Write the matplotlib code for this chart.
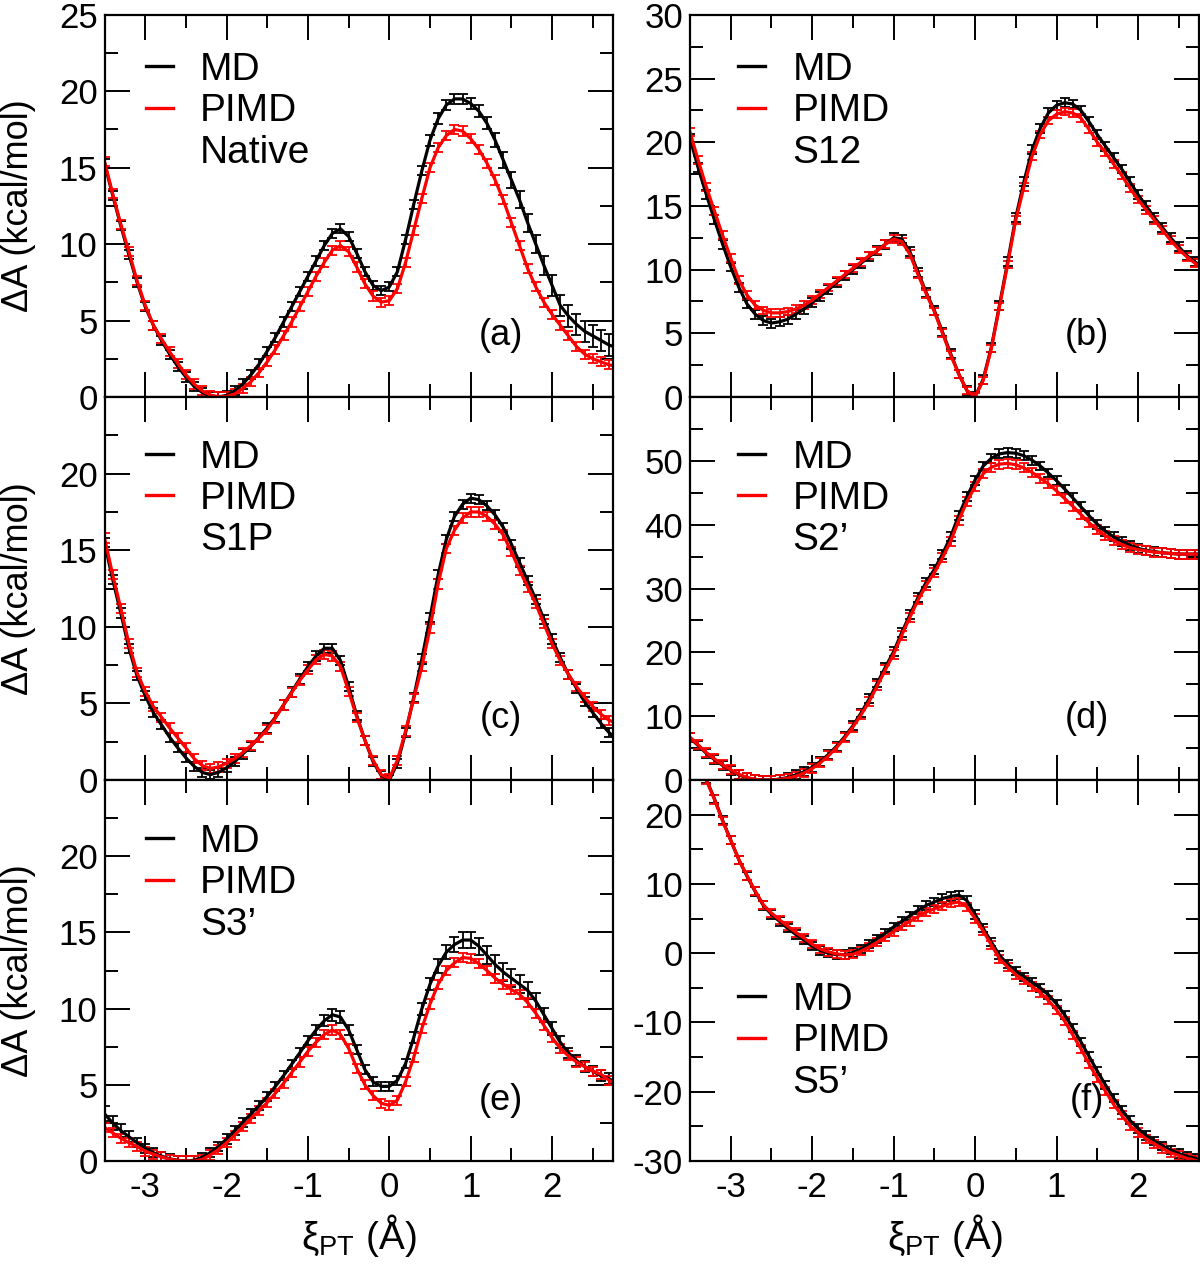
import numpy as np
import matplotlib
matplotlib.use("Agg")
import matplotlib.pyplot as plt
from matplotlib.lines import Line2D
from matplotlib.ticker import MultipleLocator

plt.rcParams['font.family'] = ['Liberation Sans', 'DejaVu Sans']
plt.rcParams['mathtext.fontset'] = 'custom'
plt.rcParams['mathtext.rm'] = 'Liberation Sans'
plt.rcParams['mathtext.it'] = 'Liberation Sans:italic'
plt.rcParams['axes.unicode_minus'] = False

# reaction coordinate grid (Angstrom), 0.1 spacing
xi = np.linspace(-3.5, 2.8, 64)

# (a) Native
a_md = [15.3, 13.2, 11.2, 9.3, 7.5, 5.9, 4.7, 3.7, 2.8, 2.0,
        1.3, 0.7, 0.3, 0.05, 0.0, 0.1, 0.4, 0.85, 1.45, 2.15,
        3.0, 3.9, 4.9, 5.9, 6.9, 7.9, 8.9, 9.9, 10.7, 11.0,
        10.5, 9.4, 8.2, 7.3, 6.95, 7.2, 8.2, 10.3, 12.6, 14.8,
        16.8, 18.2, 19.1, 19.5, 19.5, 19.2, 18.7, 17.9, 16.8, 15.5,
        14.2, 12.9, 11.4, 10.0, 8.6, 7.3, 6.0, 5.3, 4.75, 4.3,
        4.0, 3.7, 3.4, 3.2]
a_md_err = [0.3, 0.3, 0.3, 0.3, 0.3, 0.3, 0.3, 0.3, 0.3, 0.3,
            0.3, 0.3, 0.3, 0.3, 0.3, 0.3, 0.3, 0.3, 0.3, 0.3,
            0.3, 0.3, 0.3, 0.3, 0.3, 0.3, 0.3, 0.3, 0.3, 0.3,
            0.3, 0.3, 0.3, 0.3, 0.3, 0.3, 0.3, 0.3, 0.3, 0.3,
            0.35, 0.35, 0.35, 0.35, 0.35, 0.35, 0.4, 0.4, 0.45, 0.5,
            0.5, 0.55, 0.6, 0.6, 0.65, 0.7, 0.7, 0.7, 0.7, 0.7,
            0.7, 0.7, 0.7, 0.7]
a_pimd = [15.4, 13.3, 11.3, 9.5, 7.6, 6.0, 4.7, 3.8, 2.95, 2.2,
          1.45, 0.85, 0.4, 0.12, 0.02, 0.03, 0.2, 0.55, 1.0, 1.6,
          2.3, 3.1, 4.0, 4.9, 5.9, 6.9, 7.9, 8.8, 9.6, 9.9,
          9.5, 8.5, 7.4, 6.6, 6.2, 6.3, 7.1, 8.8, 10.9, 13.0,
          15.0, 16.3, 17.1, 17.5, 17.4, 16.9, 16.2, 15.3, 14.2, 12.9,
          11.4, 9.9, 8.4, 7.2, 6.2, 5.4, 4.7, 4.0, 3.3, 2.8,
          2.5, 2.3, 2.1, 2.0]
a_pimd_err = [0.3] * 64

# (b) S12
b_md = [20.3, 18.0, 15.9, 13.9, 12.0, 10.2, 8.6, 7.3, 6.5, 6.0,
        5.8, 5.9, 6.1, 6.5, 6.9, 7.4, 7.9, 8.4, 9.0, 9.5,
        10.0, 10.5, 11.0, 11.5, 12.0, 12.5, 12.4, 11.4, 9.8, 8.2,
        6.8, 5.1, 3.4, 1.8, 0.5, 0.0, 1.4, 3.9, 7.2, 10.6,
        14.1, 16.9, 19.4, 21.1, 22.3, 22.9, 23.1, 23.0, 22.5, 21.6,
        20.6, 19.7, 18.8, 17.9, 16.9, 15.9, 15.0, 14.1, 13.3, 12.5,
        11.8, 11.1, 10.6, 10.2]
b_md_err = [0.35] * 64
b_pimd = [20.8, 18.6, 16.5, 14.6, 12.7, 10.9, 9.2, 8.0, 7.2, 6.8,
          6.6, 6.6, 6.7, 6.9, 7.2, 7.6, 8.1, 8.6, 9.1, 9.6,
          10.1, 10.6, 11.1, 11.5, 12.0, 12.4, 12.2, 11.2, 9.6, 8.1,
          6.7, 5.0, 3.3, 1.8, 0.5, 0.0, 1.3, 3.8, 7.1, 10.4,
          13.9, 16.5, 18.9, 20.6, 21.7, 22.2, 22.4, 22.3, 21.9, 21.0,
          20.0, 19.2, 18.3, 17.4, 16.4, 15.5, 14.7, 13.9, 13.1, 12.3,
          11.6, 11.0, 10.5, 10.1]
b_pimd_err = [0.3] * 64

# (c) S1P
c_md = [15.5, 13.1, 10.9, 8.6, 6.8, 5.5, 4.4, 3.6, 2.8, 2.1,
        1.45, 0.9, 0.5, 0.35, 0.5, 0.8, 1.2, 1.7, 2.2, 2.8,
        3.4, 4.1, 4.9, 5.75, 6.6, 7.4, 8.1, 8.6, 8.6, 7.8,
        6.1, 4.2, 2.6, 1.2, 0.3, 0.0, 1.1, 3.1, 5.4, 7.9,
        10.6, 13.4, 15.7, 17.2, 18.0, 18.4, 18.3, 17.9, 17.3, 16.5,
        15.4, 14.2, 13.0, 11.8, 10.5, 9.2, 8.0, 6.9, 6.0, 5.1,
        4.4, 3.7, 3.1, 2.6]
c_md_err = [0.3] * 64
c_pimd = [15.8, 13.4, 11.2, 8.9, 7.0, 5.8, 4.8, 4.1, 3.4, 2.75,
          2.1, 1.4, 0.95, 0.75, 0.85, 1.1, 1.4, 1.8, 2.25, 2.75,
          3.3, 4.05, 4.9, 5.7, 6.5, 7.2, 7.85, 8.2, 8.1, 7.4,
          5.8, 4.1, 2.6, 1.3, 0.35, 0.1, 1.3, 3.2, 5.3, 7.4,
          9.9, 12.8, 15.1, 16.3, 17.1, 17.5, 17.5, 17.2, 16.7, 16.0,
          14.9, 13.7, 12.6, 11.5, 10.2, 8.9, 7.8, 6.9, 6.1, 5.4,
          4.8, 4.3, 3.9, 3.7]
c_pimd_err = [0.3] * 64

# (d) S2'
d_md = [6.6, 5.4, 4.2, 3.2, 2.3, 1.5, 0.8, 0.35, 0.1, 0.0,
        0.0, 0.15, 0.4, 0.8, 1.3, 2.0, 2.9, 4.0, 5.3, 6.8,
        8.5, 10.5, 12.7, 15.2, 17.7, 20.1, 23.1, 25.9, 28.6, 31.0,
        33.0, 35.4, 38.1, 41.5, 44.4, 47.0, 49.2, 50.4, 51.1, 51.3,
        51.2, 50.8, 50.1, 49.2, 48.1, 46.9, 45.6, 44.2, 42.8, 41.4,
        40.1, 39.0, 38.1, 37.4, 36.8, 36.3, 36.0, 35.8, 35.6, 35.5,
        35.4, 35.4, 35.4, 35.4]
d_md_err = [0.7] * 64
d_pimd = [6.7, 5.5, 4.3, 3.3, 2.4, 1.6, 0.9, 0.4, 0.1, 0.0,
          0.0, 0.1, 0.3, 0.6, 1.1, 1.8, 2.7, 3.8, 5.1, 6.6,
          8.3, 10.2, 12.3, 14.8, 17.3, 19.7, 22.7, 25.5, 28.2, 30.5,
          32.5, 34.8, 37.4, 40.7, 43.6, 46.0, 48.0, 49.0, 49.5, 49.6,
          49.4, 48.9, 48.2, 47.3, 46.4, 45.3, 44.1, 42.9, 41.6, 40.3,
          39.2, 38.3, 37.5, 36.9, 36.4, 36.1, 35.9, 35.7, 35.6, 35.5,
          35.4, 35.4, 35.4, 35.4]
d_pimd_err = [0.7] * 64

# (e) S3'
e_md = [3.1, 2.5, 2.0, 1.6, 1.2, 0.85, 0.55, 0.32, 0.15, 0.05,
        0.0, 0.05, 0.25, 0.55, 0.95, 1.45, 2.0, 2.55, 3.1, 3.65,
        4.25, 4.9, 5.6, 6.35, 7.1, 7.9, 8.6, 9.2, 9.6, 9.45,
        8.6, 7.3, 6.0, 5.2, 4.9, 4.9, 5.3, 6.4, 8.1, 10.0,
        11.6, 12.8, 13.7, 14.2, 14.5, 14.5, 14.1, 13.5, 12.9, 12.4,
        12.0, 11.6, 11.2, 10.5, 9.6, 8.7, 7.8, 7.1, 6.6, 6.2,
        5.9, 5.6, 5.4, 5.1]
e_md_err = [0.5, 0.45, 0.4, 0.35, 0.3, 0.3, 0.3, 0.3, 0.3, 0.3,
            0.3, 0.3, 0.3, 0.3, 0.3, 0.3, 0.3, 0.3, 0.3, 0.3,
            0.3, 0.3, 0.3, 0.3, 0.3, 0.3, 0.35, 0.35, 0.4, 0.4,
            0.35, 0.3, 0.3, 0.3, 0.3, 0.3, 0.3, 0.3, 0.35, 0.4,
            0.4, 0.45, 0.45, 0.5, 0.5, 0.5, 0.55, 0.6, 0.6, 0.6,
            0.6, 0.6, 0.55, 0.5, 0.45, 0.4, 0.4, 0.35, 0.35, 0.35,
            0.35, 0.35, 0.35, 0.35]
e_pimd = [2.2, 1.85, 1.5, 1.2, 0.95, 0.65, 0.45, 0.27, 0.12, 0.03,
          0.0, 0.0, 0.1, 0.4, 0.75, 1.2, 1.7, 2.25, 2.8, 3.3,
          3.85, 4.45, 5.1, 5.8, 6.5, 7.2, 7.8, 8.3, 8.6, 8.3,
          7.4, 6.1, 5.0, 4.3, 3.8, 3.65, 4.0, 5.2, 6.8, 8.7,
          10.3, 11.6, 12.5, 13.0, 13.35, 13.3, 12.95, 12.5, 12.0, 11.6,
          11.25, 10.95, 10.4, 9.7, 8.9, 8.1, 7.4, 6.9, 6.5, 6.2,
          5.9, 5.7, 5.3, 5.0]
e_pimd_err = [0.3] * 64

# (f) S5'
f_md = [31.2, 28.0, 25.1, 22.3, 19.2, 16.3, 13.5, 11.1, 8.9, 6.9,
        5.6, 4.6, 3.6, 2.7, 1.9, 1.0, 0.4, 0.0, -0.2, -0.2,
        0.1, 0.6, 1.3, 2.1, 2.9, 3.8, 4.6, 5.4, 6.2, 6.9,
        7.4, 7.9, 8.2, 8.4, 7.6, 5.6, 3.6, 1.6, -0.3, -1.6,
        -2.6, -3.4, -4.2, -5.0, -6.0, -7.3, -8.9, -10.8, -12.8, -14.9,
        -17.0, -19.0, -20.9, -22.6, -24.1, -25.3, -26.3, -27.1, -27.8, -28.4,
        -28.9, -29.3, -29.6, -29.9]
f_md_err = [0.6] * 64
f_pimd = [31.0, 27.9, 25.0, 22.2, 19.1, 16.3, 13.5, 11.2, 9.0, 7.0,
          5.8, 4.8, 3.9, 3.0, 2.2, 1.3, 0.6, 0.2, -0.1, -0.25,
          -0.15, 0.3, 0.9, 1.6, 2.3, 3.1, 3.9, 4.6, 5.3, 5.95,
          6.4, 6.8, 7.2, 7.4, 6.7, 5.0, 3.2, 1.2, -0.8, -2.0,
          -3.1, -3.9, -4.8, -5.7, -6.8, -8.2, -9.8, -11.8, -13.8, -16.0,
          -18.0, -19.9, -21.8, -23.4, -24.9, -25.9, -26.8, -27.5, -28.2, -28.8,
          -29.2, -29.6, -29.9, -30.2]
f_pimd_err = [0.6] * 64

names = ['Native', 'S12', 'S1P', 'S2\u2019', 'S3\u2019', 'S5\u2019']
tags = ['(a)', '(b)', '(c)', '(d)', '(e)', '(f)']
md_sets = [a_md, b_md, c_md, d_md, e_md, f_md]
md_errs = [a_md_err, b_md_err, c_md_err, d_md_err, e_md_err, f_md_err]
pimd_sets = [a_pimd, b_pimd, c_pimd, d_pimd, e_pimd, f_pimd]
pimd_errs = [a_pimd_err, b_pimd_err, c_pimd_err, d_pimd_err, e_pimd_err, f_pimd_err]

# y axis setup per panel: (ymin, ymax, major, minor, last labelled tick)
ylims = [(0, 25, 5, 2.5, 25), (0, 30, 5, 2.5, 30), (0, 25, 5, 2.5, 20),
         (0, 60, 10, 5, 50), (0, 25, 5, 2.5, 20), (-30, 25, 10, 5, 20)]
legend_y = [0.903, 0.903, 0.889, 0.889, 0.885, 0.47]

fig = plt.figure(figsize=(12, 12.71), dpi=100)

col_x = [0.0871, 0.575]
col_w = [0.4238, 0.4242]
row_y = [0.6877, 0.3863, 0.0865]
row_h = [0.3006, 0.3013, 0.2998]

for k in range(6):
    r, c = k // 2, k % 2
    ax = fig.add_axes([col_x[c], row_y[r], col_w[c], row_h[r]])

    ax.errorbar(xi, md_sets[k], yerr=md_errs[k], color='black', lw=2.3,
                elinewidth=1.3, capsize=3.8, capthick=1.3)
    ax.errorbar(xi, pimd_sets[k], yerr=pimd_errs[k], color='red', lw=2.3,
                elinewidth=1.3, capsize=3.8, capthick=1.3)

    ymin, ymax, major, minor, ylab_top = ylims[k]
    ax.set_xlim(-3.5, 2.75)
    ax.set_ylim(ymin, ymax)
    ax.set_xticks(np.arange(-3, 3, 1))
    ax.xaxis.set_minor_locator(MultipleLocator(0.5))
    ax.set_yticks(np.arange(ymin, ylab_top + 0.1, major))
    ax.yaxis.set_minor_locator(MultipleLocator(minor))

    for s in ax.spines.values():
        s.set_linewidth(1.6)
    ax.tick_params(which='both', direction='in', top=True, right=True,
                   width=1.4, labelsize=25)
    ax.tick_params(which='major', length=18)
    ax.tick_params(which='minor', length=9.5)
    ax.tick_params(axis='x', which='major', pad=7)
    ax.tick_params(axis='y', which='major', pad=5)
    if r < 2:
        ax.tick_params(labelbottom=False)
    else:
        ax.set_xlabel('\u03be$_{\\rm PT}$ (\u00c5)', fontsize=28, labelpad=6)
    if c == 0:
        ax.set_ylabel('\u0394A (kcal/mol)', fontsize=26)
        ax.yaxis.set_label_coords(-0.135, 0.5)

    handles = [Line2D([], [], color='black', lw=2.4),
               Line2D([], [], color='red', lw=2.4),
               Line2D([], [], color='none')]
    lx = 0.081 if c == 0 else 0.094
    ax.legend(handles, ['MD', 'PIMD', names[k]], loc='upper left',
              bbox_to_anchor=(lx, legend_y[k]), frameon=False, fontsize=28,
              handlelength=0.7, handletextpad=0.7, labelspacing=0.14,
              borderpad=0, borderaxespad=0)

    ax.text(0.78, 0.16, tags[k], transform=ax.transAxes, ha='center',
            va='center', fontsize=26)

fig.savefig('out.png', dpi=100)
